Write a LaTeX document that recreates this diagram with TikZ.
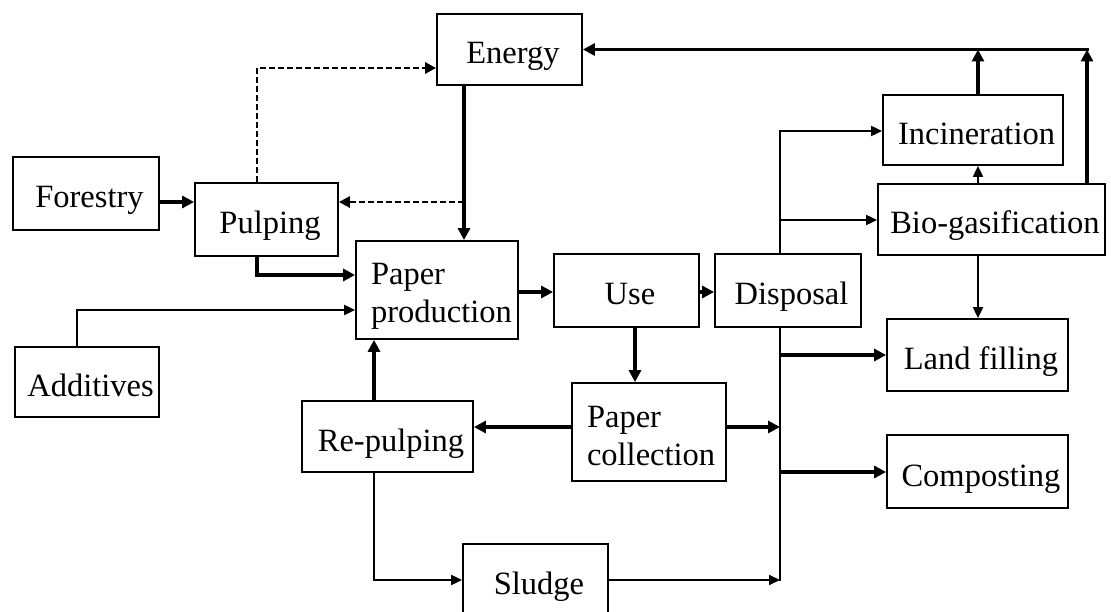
\documentclass[tikz,border=0pt]{standalone}
\usepackage{fontspec}
\setmainfont{Liberation Serif}
\usetikzlibrary{arrows.meta}
\begin{document}
\begin{tikzpicture}[x=1pt,y=-1pt,
  box/.style={draw, line width=1.8pt, inner sep=0pt, font=\fontsize{32.5}{38}\selectfont},
  onebox/.style={box, text height=31pt, text depth=2pt, execute at begin node={\hspace*{7pt}}},
  twobox/.style={box, align=left, text height=25pt, text depth=35pt},
  thk/.style={line width=3.5pt, -{Triangle[length=12pt,width=12pt]}},
  thn/.style={line width=1.9pt, -{Triangle[length=11pt,width=10pt]}},
  thnline/.style={line width=1.9pt, line cap=rect},
  dsh/.style={line width=2.8pt, dash pattern=on 6pt off 3pt, -{Triangle[length=11pt,width=11pt]}},
]
\useasboundingbox (0,0) rectangle (1111,612);
\clip (0,0) rectangle (1111,612);

% process boxes
\node[onebox, minimum width=145pt, minimum height=71pt] (energy)    at (509.5,49.5)  {Energy};
\node[onebox, minimum width=146pt, minimum height=73pt] (forestry)  at (86,193.5)    {Forestry};
\node[onebox, minimum width=143pt, minimum height=73pt] (pulping)   at (266.5,219.5) {Pulping};
\node[twobox, minimum width=162pt, minimum height=98pt, text width=132pt] (paperprod) at (437,290) {Paper\\production};
\node[onebox, minimum width=145pt, minimum height=73pt] (use)       at (626.5,290.5) {Use};
\node[onebox, minimum width=146pt, minimum height=73pt] (disposal)  at (788,290.5)   {Disposal};
\node[onebox, minimum width=180pt, minimum height=70pt] (incin)     at (973,130)     {Incineration};
\node[onebox, minimum width=227pt, minimum height=71pt] (biogas)    at (991.5,219.5) {Bio-gasification};
\node[onebox, minimum width=181pt, minimum height=72pt] (landfill)  at (977.5,355)   {Land filling};
\node[onebox, minimum width=181pt, minimum height=73pt] (compost)   at (977.5,471.5) {Composting};
\node[onebox, minimum width=144pt, minimum height=70pt] (additives) at (87,382)      {Additives};
\node[onebox, minimum width=171pt, minimum height=71pt] (repulp)    at (387.5,436.5) {Re-pulping};
\node[twobox, minimum width=154pt, minimum height=98pt, text width=124pt] (papercol) at (649,432) {Paper\\collection};
\node[onebox, minimum width=145pt, minimum height=71pt] (sludge)    at (535.5,579.5) {Sludge};

% lanes used by the connectors
\coordinate (c77)   at (77,0);
\coordinate (c257)  at (257,0);
\coordinate (c374)  at (374,0);
\coordinate (c464)  at (464,0);
\coordinate (c635)  at (635,0);
\coordinate (bus)   at (780,0);
\coordinate (c978)  at (978,0);
\coordinate (c1087) at (1087,0);
\coordinate (r49)   at (0,49.5);
\coordinate (r68)   at (0,68);
\coordinate (r202)  at (0,202);
\coordinate (r220)  at (0,220);
\coordinate (r275)  at (0,275);
\coordinate (r292)  at (0,292);
\coordinate (r310)  at (0,310);
\coordinate (r355)  at (0,355);
\coordinate (r427)  at (0,427);
\coordinate (r472)  at (0,472);
\coordinate (r580)  at (0,580);
\coordinate (bustop) at (780,131);
\coordinate (busbot) at (780,580);
\coordinate (j1)    at (464,202);

% raw material and energy supply
\draw[thk] (forestry.east |- r202) -- (pulping.west |- r202);
\draw[dsh] (pulping.north -| c257) |- (energy.west |- r68);
\draw[thk] (energy.south -| c464) -- (paperprod.north -| c464);
\draw[dsh] (j1) -- (pulping.east |- j1);
\draw[thk] (pulping.south -| c257) |- (paperprod.west |- r275);
\draw[thn] (additives.north -| c77) |- (paperprod.west |- r310);

% use and recycling loop
\draw[thk] (paperprod.east |- r292) -- (use.west |- r292);
\draw[thk] (use.east |- r292) -- (disposal.west |- r292);
\draw[thk] (use.south -| c635) -- (papercol.north -| c635);
\draw[thk] (papercol.west |- r427) -- (repulp.east |- r427);
\draw[thk] (repulp.north -| c374) -- (paperprod.south -| c374);
\draw[thn] (repulp.south -| c374) |- (sludge.west |- r580);

% disposal bus
\draw[thnline] (disposal.north -| bus) -- (bustop);
\draw[thnline] (disposal.south -| bus) -- (busbot);
\draw[thn] (bustop) -- (incin.west |- bustop);
\draw[thn] (bus |- r220) -- (biogas.west |- r220);
\draw[thk] (bus |- r355) -- (landfill.west |- r355);
\draw[thk] (bus |- r472) -- (compost.west |- r472);
\draw[thk] (papercol.east |- r427) -- (bus |- r427);
\draw[thn] (sludge.east |- r580) -- (busbot);

% treatment routes
\draw[thn] (biogas.north -| c978) -- (incin.south -| c978);
\draw[thn] (biogas.south -| c978) -- (landfill.north -| c978);

% energy recovery
\draw[thk] (incin.north -| c978) -- (c978 |- r49);
\draw[thk] (biogas.north -| c1087) -- (c1087 |- r49);
\draw[thk, shorten <=-1.75pt] (c1087 |- r49) -- (energy.east |- r49);
\end{tikzpicture}
\end{document}
